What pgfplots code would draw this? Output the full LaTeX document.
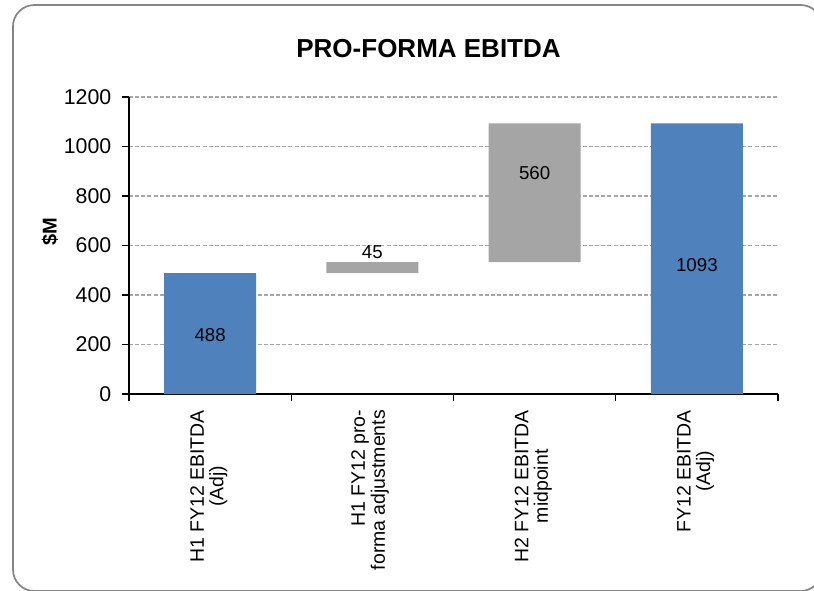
\documentclass[border=0pt]{standalone}
\usepackage{fontspec}
\setmainfont{Liberation Sans}
\usepackage{pgfplots}
\usepackage{pgfplotstable}
\pgfplotsset{compat=1.18}

\definecolor{barblue}{HTML}{4F81BD}
\definecolor{bargray}{HTML}{A5A5A5}
\definecolor{gridgray}{HTML}{A6A6A6}
\definecolor{framegray}{HTML}{868686}

% Waterfall: invisible base + visible segment; labely is where each value label sits
\pgfplotstableread{
x base blue gray value labely
0 0   488  0   488  238
1 488 0    45  45   574
2 533 0    560 560  893
3 0   1093 0   1093 521
}\ebitda

\pgfplotsset{
  wf/.style={
    width=486.75pt, height=222.75pt, scale only axis,
    at={(96.75pt,-295.5pt)}, anchor=south west,
    xmin=-0.5, xmax=3.5, ymin=0, ymax=1200,
  },
}

\begin{document}
\begin{tikzpicture}
\useasboundingbox (0,0) rectangle (610.5pt,-442.5pt);
\clip (0,0) rectangle (610.5pt,-442.5pt);
\draw[framegray, line width=1.3pt, rounded corners=16pt]
  (9.75pt,-3.75pt) rectangle (616.5pt,-443.25pt);

\node[anchor=base, font=\fontsize{19.5}{22}\selectfont\bfseries]
  at (321.4pt,-42.75pt) {PRO-FORMA EBITDA};
\node[rotate=90, font=\fontsize{15}{18}\selectfont\bfseries]
  at (37.5pt,-174pt) {\$M};

\begin{axis}[wf,
  ybar stacked, bar width=69pt,
  axis lines*=left,
  axis line style={black, line width=1pt},
  tick align=outside, major tick length=5.25pt,
  tick style={black, line width=0.9pt},
  ytick={0,200,...,1200},
  ymajorgrids,
  grid style={gridgray, line width=0.8pt, dash pattern=on 3pt off 1.6pt},
  xtick={-0.5,0.5,1.5,2.5,3.5},
  xticklabels={,,,,,},
  extra x ticks={0,1,2,3},
  extra x tick labels={
    {H1 FY12 EBITDA\\(Adj)},
    {\begin{tabular}{@{}r@{}}H1 FY12 pro-\\forma adjustments\end{tabular}},
    {H2 FY12 EBITDA\\midpoint},
    {FY12 EBITDA\\(Adj)}},
  extra x tick style={major tick length=0pt, grid=none,
    xticklabel style={yshift=-8.5pt, xshift=-1pt, rotate=90, anchor=east,
      align=center, font=\fontsize{14.6}{14.6}\selectfont}},
  yticklabel style={xshift=-4.5pt, font=\fontsize{16}{18}\selectfont},
  /pgf/number format/assume math mode=true,
  /pgf/number format/1000 sep={},
]
\addplot[draw=none, fill=none] table[x=x, y=base]{\ebitda};
\addplot[draw=none, fill=barblue] table[x=x, y=blue]{\ebitda};
\addplot[draw=none, fill=bargray] table[x=x, y=gray]{\ebitda};
\end{axis}

\begin{axis}[wf, hide axis]
\addplot[draw=none, mark=none, nodes near coords,
  point meta=explicit symbolic,
  nodes near coords style={anchor=center, font=\fontsize{14}{16}\selectfont}]
  table[x=x, y=labely, meta=value]{\ebitda};
\end{axis}
\end{tikzpicture}
\end{document}
